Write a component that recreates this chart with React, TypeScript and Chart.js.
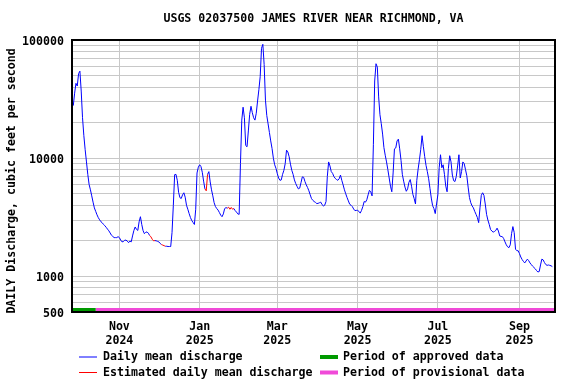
import React, { useEffect, useRef } from 'react';
import { Chart, registerables } from 'chart.js';

Chart.register(...registerables);

const TITLE = 'USGS 02037500 JAMES RIVER NEAR RICHMOND, VA';
const Y_TITLE = 'DAILY Discharge, cubic feet per second';

// Daily mean discharge (cfs), day 0 = 2024-09-26
const dailyFlow = [
  29500, 28000, 35500, 43000, 40800, 52000, 54500, 37000, 22000, 15500, 11800, 9300, 7300, 6000, 5400,
  4800, 4250, 3800, 3550, 3320, 3140, 3010, 2900, 2840, 2750, 2680, 2600, 2510, 2430, 2330,
  2230, 2180, 2130, 2130, 2130, 2170, 2130, 2030, 1960, 1970, 2020, 2030, 1990, 1930, 1990,
  1960, 2200, 2440, 2620, 2500, 2450, 2900, 3200, 2750, 2440, 2300, 2360, 2380, 2320, 2220,
  2160, 2060, 2000, 2010, 2000, 1980, 1960, 1900, 1860, 1840, 1820, 1800, 1800, 1790, 1790,
  1790, 2350, 4000, 7260, 7300, 6500, 5150, 4640, 4560, 4900, 5100, 4680, 4000, 3700, 3400,
  3150, 2970, 2860, 2750, 3700, 7500, 8400, 8800, 8500, 7600, 6400, 5500, 5300, 7300, 7700,
  6300, 5400, 4800, 4200, 3900, 3750, 3640, 3470, 3300, 3200, 3380, 3750, 3820, 3780, 3850,
  3700, 3830, 3700, 3750, 3600, 3500, 3380, 3350, 9000, 21000, 27000, 22000, 12800, 12500, 17000,
  23500, 27500, 24300, 22000, 21000, 24000, 30500, 38000, 49000, 85000, 92000, 62000, 31000, 23000, 19500,
  16500, 14000, 12100, 10000, 8800, 8200, 7400, 6800, 6500, 6550, 7300, 7900, 9000, 11700, 11300,
  10300, 8900, 7900, 7300, 6550, 6100, 5780, 5500, 5580, 6200, 6950, 6900, 6350, 5950, 5650,
  5300, 4900, 4550, 4400, 4300, 4230, 4130, 4150, 4200, 4250, 4050, 3950, 4000, 4300, 7000,
  9300, 8600, 7700, 7450, 7000, 6750, 6600, 6500, 6700, 7200, 6500, 5950, 5400, 5000, 4650,
  4350, 4080, 4000, 3900, 3720, 3600, 3620, 3620, 3550, 3430, 3620, 3900, 4300, 4250, 4450,
  4900, 5350, 5200, 4800, 13000, 45000, 63000, 59000, 33000, 23300, 19600, 16000, 12300, 10600, 9300,
  8000, 6800, 5800, 5200, 7500, 12000, 12200, 14000, 14500, 12000, 9600, 7300, 6400, 5700, 5250,
  5500, 6250, 6600, 5800, 4950, 4550, 4100, 6500, 8100, 9700, 11900, 15500, 12500, 10300, 8700,
  7700, 6700, 5550, 4600, 3970, 3750, 3400, 4100, 4900, 8300, 10700, 8300, 8800, 7300, 5800,
  5200, 8200, 10500, 9300, 7200, 6450, 6350, 7000, 8600, 10700, 6800, 7700, 9300, 9000, 8000,
  7100, 5700, 4650, 4200, 3950, 3800, 3550, 3350, 3150, 2850, 3800, 4850, 5100, 4850, 4100,
  3350, 3000, 2760, 2500, 2420, 2370, 2400, 2450, 2560, 2420, 2200, 2180, 2170, 2090, 1960,
  1850, 1780, 1750, 1850, 2300, 2640, 2350, 1700, 1650, 1650, 1560, 1460, 1390, 1340, 1300,
  1350, 1400, 1360, 1300, 1260, 1220, 1190, 1160, 1120, 1090, 1100, 1250, 1400, 1380, 1310,
  1260, 1240, 1250, 1240, 1230, 1210,
];

// Day-index ranges of estimated values
const estimatedStart = [59, 68, 101, 118];
const estimatedEnd = [63, 71, 103, 123];

// Data-status periods (day indices)
const approvedPeriod = [0, 18];
const provisionalPeriod = [18, 367];

const xMin = 0;
const xMax = 367;
const tickDays = [36, 97, 156, 217, 278, 340];
const tickMonths = ['Nov', 'Jan', 'Mar', 'May', 'Jul', 'Sep'];
const tickYears = ['2024', '2025', '2025', '2025', '2025', '2025'];

const yMin = 500;
const yMax = 100000;
const yLabelValues = [500, 1000, 10000, 100000];
const yGridValues = [
  500, 600, 700, 800, 900, 1000, 2000, 3000, 4000, 5000, 6000, 7000, 8000, 9000,
  10000, 20000, 30000, 40000, 50000, 60000, 70000, 80000, 90000, 100000,
];

const legendLabels = [
  'Daily mean discharge',
  'Estimated daily mean discharge',
  'Period of approved data',
  'Period of provisional data',
];

const BLUE = '#0000ff';
const RED = '#ff0000';
const GREEN = '#009a00';
const MAGENTA = '#f04ad8';
const GRID = '#c8c8c8';
const FONT_FAMILY = '"DejaVu Sans Mono", "Liberation Mono", monospace';
const FONT_SIZE = 11.6;

export default function App() {
  const ref = useRef<HTMLCanvasElement>(null);

  useEffect(() => {
    document.body.style.margin = '0';
    const canvas = ref.current!;
    const isEst = (i: number) =>
      estimatedStart.some((s, k) => i >= s && i <= estimatedEnd[k]);
    const font = { family: FONT_FAMILY, size: FONT_SIZE, weight: 'bold' as const, lineHeight: 1.2 };
    const cssFont = `bold ${FONT_SIZE}px ${FONT_FAMILY}`;

    const decor = {
      id: 'decor',
      afterDatasetsDraw(chart: any) {
        const { ctx, chartArea } = chart;
        ctx.save();
        ctx.strokeStyle = '#000';
        ctx.lineWidth = 2;
        ctx.strokeRect(chartArea.left, chartArea.top, chartArea.right - chartArea.left, chartArea.bottom - chartArea.top);
        ctx.restore();
      },
      afterDraw(chart: any) {
        const { ctx, chartArea } = chart;
        ctx.save();
        ctx.font = cssFont;
        ctx.fillStyle = '#000';
        ctx.textBaseline = 'middle';
        ctx.textAlign = 'center';
        ctx.fillText(TITLE, (chartArea.left + chartArea.right) / 2, 19);

        ctx.save();
        ctx.translate(12, 181);
        ctx.rotate(-Math.PI / 2);
        ctx.fillText(Y_TITLE, 0, 0);
        ctx.restore();

        ctx.textAlign = 'left';
        const rows = [357, 372.5];
        ctx.lineWidth = 1;
        ctx.strokeStyle = BLUE;
        ctx.beginPath(); ctx.moveTo(79, rows[0]); ctx.lineTo(97, rows[0]); ctx.stroke();
        ctx.strokeStyle = RED;
        ctx.beginPath(); ctx.moveTo(79, rows[1]); ctx.lineTo(97, rows[1]); ctx.stroke();
        ctx.lineWidth = 4;
        ctx.strokeStyle = GREEN;
        ctx.beginPath(); ctx.moveTo(320, rows[0]); ctx.lineTo(338, rows[0]); ctx.stroke();
        ctx.strokeStyle = MAGENTA;
        ctx.beginPath(); ctx.moveTo(320, rows[1]); ctx.lineTo(338, rows[1]); ctx.stroke();
        ctx.fillText(legendLabels[0], 103, rows[0]);
        ctx.fillText(legendLabels[1], 103, rows[1]);
        ctx.fillText(legendLabels[2], 343, rows[0]);
        ctx.fillText(legendLabels[3], 343, rows[1]);
        ctx.restore();
      },
    };

    const chart = new Chart(canvas, {
      type: 'line',
      data: {
        datasets: [
          {
            data: dailyFlow.map((v, i) => ({ x: i, y: v })),
            borderColor: BLUE,
            borderWidth: 1,
            pointRadius: 0,
            tension: 0,
            segment: {
              borderColor: (c: any) => (isEst(c.p0DataIndex) && isEst(c.p1DataIndex) ? RED : BLUE),
            },
          },
          {
            data: [{ x: approvedPeriod[0], y: yMin }, { x: approvedPeriod[1], y: yMin }],
            borderColor: GREEN,
            borderWidth: 8,
            pointRadius: 0,
            clip: 0,
          },
          {
            data: [{ x: provisionalPeriod[0], y: yMin }, { x: provisionalPeriod[1], y: yMin }],
            borderColor: MAGENTA,
            borderWidth: 8,
            pointRadius: 0,
            clip: 0,
          },
        ] as any,
      },
      options: {
        responsive: false,
        animation: false,
        events: [],
        layout: { padding: { top: 40, right: 21, bottom: 0, left: 0 } },
        plugins: {
          legend: { display: false },
          tooltip: { enabled: false },
          title: { display: false },
        },
        scales: {
          x: {
            type: 'linear',
            min: xMin,
            max: xMax,
            afterBuildTicks: (s: any) => {
              s.ticks = tickDays.map((v) => ({ value: v }));
            },
            afterFit: (s: any) => {
              s.height = 72;
            },
            grid: { color: GRID, lineWidth: 1, drawTicks: false },
            border: { display: false },
            ticks: {
              autoSkip: false,
              maxRotation: 0,
              padding: 8,
              color: '#000',
              font,
              callback: (v: any) => {
                const i = tickDays.indexOf(Number(v));
                return i < 0 ? '' : [tickMonths[i], tickYears[i]];
              },
            },
          },
          y: {
            type: 'logarithmic',
            min: yMin,
            max: yMax,
            afterBuildTicks: (s: any) => {
              s.ticks = yGridValues.map((v) => ({ value: v }));
            },
            afterFit: (s: any) => {
              s.width = 72;
            },
            grid: { color: GRID, lineWidth: 1, drawTicks: false },
            border: { display: false },
            ticks: {
              autoSkip: false,
              padding: 8,
              labelOffset: 2,
              color: '#000',
              font,
              callback: (v: any) => (yLabelValues.includes(Number(v)) ? String(v) : ''),
            },
          },
        },
      } as any,
      plugins: [decor],
    });
    return () => chart.destroy();
  }, []);

  return (
    <div style={{ width: 576, height: 384 }}>
      <canvas ref={ref} width={576} height={384} style={{ display: 'block' }} />
    </div>
  );
}
